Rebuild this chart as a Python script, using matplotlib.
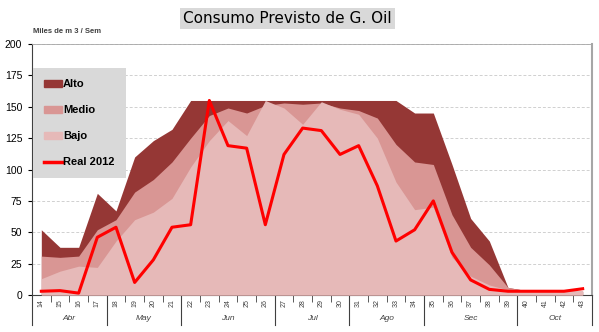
import numpy as np
import matplotlib.pyplot as plt
from matplotlib.patches import Patch
from matplotlib.lines import Line2D
from matplotlib.transforms import blended_transform_factory

# semanas 14 a 43
weeks = list(range(14, 44))
months = ['Abr', 'May', 'Jun', 'Jul', 'Ago', 'Sec', 'Oct']
month_weeks = [4, 4, 5, 4, 4, 5, 4]  # semanas por mes

alto = [52, 38, 38, 81, 67, 110, 123, 132, 155, 155, 155, 155, 155, 155, 155,
        155, 155, 155, 155, 155, 145, 145, 104, 61, 43, 6, 3.5, 3, 3, 3]
medio = [31, 30, 31, 52, 60, 82, 92, 106, 125, 143, 149, 145, 151, 153, 152,
         153, 149, 147, 141, 120, 106, 104, 64, 38, 24, 6, 3.5, 3, 3, 3]
bajo = [13, 19, 23, 22, 43, 60, 66, 77, 102, 123, 139, 127, 155, 149, 136,
        154, 148, 144, 125, 90, 68, 70, 30, 15, 8, 4, 3, 3, 3, 3]
real = [3, 3.5, 1.5, 46, 54, 10, 28, 54, 56, 155, 119, 117, 56, 112, 133,
        131, 112, 119, 87, 43, 52, 75, 34, 12, 4.5, 3, 3, 3, 3, 5]

c_alto = '#953735'
c_medio = '#d99694'
c_bajo = '#e6b9b8'
c_real = '#ff0000'

plt.rcParams['font.family'] = ['Liberation Sans', 'DejaVu Sans']

fig = plt.figure(figsize=(5.99, 3.32), dpi=100)
ax = fig.add_axes([0.0534, 0.1114, 0.9349, 0.7561])

x = np.arange(len(weeks))
ax.fill_between(x, 0, alto, color=c_alto, lw=0, zorder=2)
ax.fill_between(x, 0, medio, color=c_medio, lw=0, zorder=3)
ax.fill_between(x, 0, bajo, color=c_bajo, lw=0, zorder=4)
ax.plot(x, real, color=c_real, lw=2.2, zorder=5)

ax.set_xlim(-0.5, len(weeks) - 0.5)
ax.set_ylim(0, 200)
ax.set_yticks(np.arange(0, 201, 25))
ax.tick_params(axis='y', labelsize=7.5, length=3, pad=4)
ax.yaxis.grid(True, ls=(0, (3, 2)), color='#d0d0d0', lw=0.7, zorder=0)
ax.set_axisbelow(True)

# eje x: etiquetas de semana y separadores
ax.set_xticks(x)
ax.set_xticklabels([str(w) for w in weeks], rotation=90, fontsize=5, color='#404040')
ax.tick_params(axis='x', which='major', length=0, pad=3)
ax.set_xticks(np.arange(-0.5, len(weeks)), minor=True)
ax.tick_params(axis='x', which='minor', length=5, width=0.6, color='#404040')

trans = blended_transform_factory(ax.transData, ax.transAxes)
edges = np.concatenate([[0], np.cumsum(month_weeks)]) - 0.5
for e in edges:
    ax.plot([e, e], [0, -0.12], transform=trans, color='#404040', lw=0.8, clip_on=False)
for m, a, b in zip(months, edges[:-1], edges[1:]):
    ax.text((a + b) / 2, -0.092, m, transform=trans, ha='center', va='center',
            fontsize=6, style='italic', color='#404040')

for s in ['top', 'right']:
    ax.spines[s].set_color('#a6a6a6')
ax.spines['right'].set_linewidth(1.5)
ax.spines['top'].set_linewidth(0.6)
ax.spines['left'].set_color('#404040')
ax.spines['bottom'].set_color('#404040')

ax.text(0.002, 1.035, 'Miles de m 3 / Sem', transform=ax.transAxes, fontsize=5.5,
        fontweight='bold', color='#404040', va='bottom')

handles = [Patch(color=c_alto), Patch(color=c_medio), Patch(color=c_bajo),
           Line2D([], [], color=c_real, lw=2.5)]
leg = ax.legend(handles, ['Alto', 'Medio', 'Bajo', 'Real 2012'], loc='upper left',
                bbox_to_anchor=(0.002, 0.905), frameon=True, fancybox=False,
                facecolor='#d9d9d9', edgecolor='none', framealpha=1,
                prop={'weight': 'bold', 'size': 8}, labelspacing=1.45,
                handlelength=1.6, handleheight=0.6, handletextpad=0.1,
                borderpad=1.0, borderaxespad=0)
leg.set_zorder(10)

fig.text(0.48, 0.945, 'Consumo Previsto de G. Oil', ha='center', va='center',
         fontsize=11, family='DejaVu Sans',
         bbox=dict(facecolor='#d9d9d9', edgecolor='none', pad=2))

fig.savefig('out.png', dpi=100)
